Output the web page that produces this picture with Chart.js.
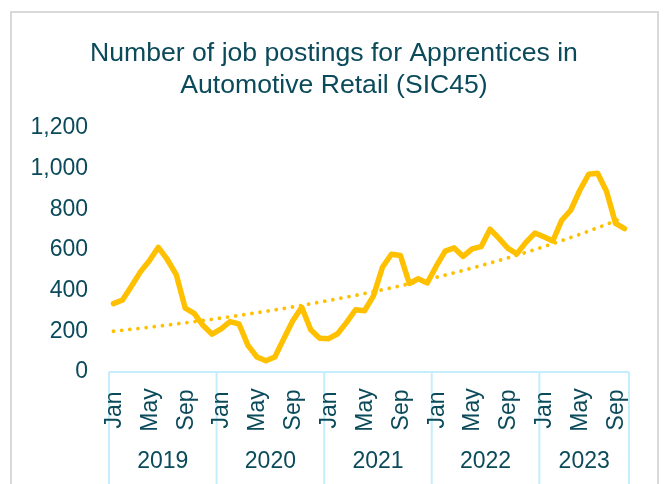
<!DOCTYPE html>
<html>
<head>
<meta charset="utf-8">
<script src="https://cdn.jsdelivr.net/npm/chart.js@4"></script>
<style>
  html, body { margin: 0; padding: 0; background: #ffffff; }
  canvas { display: block; }
</style>
</head>
<body>
<canvas id="chart-vagas" width="664" height="484"></canvas>
<script>
const anos = ["2019", "2020", "2021", "2022", "2023"];
const nomesMeses = ["Jan", "Feb", "Mar", "Apr", "May", "Jun", "Jul", "Aug", "Sep", "Oct", "Nov", "Dec"];

const vagas2019 = [336, 354, 422, 492, 547, 613, 553, 479, 314, 288, 228, 186];
const vagas2020 = [212, 248, 236, 131, 74, 55, 74, 164, 252, 318, 208, 166];
const vagas2021 = [164, 188, 244, 306, 301, 374, 515, 579, 573, 435, 458, 438];
const vagas2022 = [520, 594, 610, 568, 605, 616, 702, 657, 608, 581, 637, 683];
const vagas2023 = [665, 644, 746, 795, 892, 972, 977, 887, 730, 705];

const ticksY = [0, 200, 400, 600, 800, 1000, 1200];

const corLinha = "#FFC000";
const corTexto = "#0b4a5a";
const corTabela = "#c4eefb";
const fonte = "'Liberation Sans', Arial, sans-serif";

const porAno = [vagas2019, vagas2020, vagas2021, vagas2022, vagas2023];
const valores = porAno.flat();
const rotulos = [];
porAno.forEach((lista, k) => {
  lista.forEach((v, m) => rotulos.push(nomesMeses[m] + " " + anos[k]));
});

// linha de tendencia exponencial (minimos quadrados em ln(y)), como no Excel
function tendenciaExp(ys) {
  const n = ys.length;
  let sx = 0, sy = 0, sxx = 0, sxy = 0;
  ys.forEach((y, i) => {
    const x = i + 1;
    const ly = Math.log(y);
    sx += x; sy += ly; sxx += x * x; sxy += x * ly;
  });
  const b = (n * sxy - sx * sy) / (n * sxx - sx * sx);
  const a = (sy - b * sx) / n;
  return ys.map((y, i) => Math.exp(a + b * (i + 1)));
}
const tendencia = tendenciaExp(valores);

const moldura = {
  id: "moldura",
  afterLayout(chart) {
    // o titulo fica um pouco a direita do centro da area
    chart.titleBlock.left += 4.5;
    chart.titleBlock.right += 4.5;
  },
  beforeDraw(chart) {
    const ctx = chart.ctx;
    ctx.save();
    ctx.fillStyle = "#ffffff";
    ctx.fillRect(0, 0, chart.width, chart.height);
    ctx.strokeStyle = "#d9d9d9";
    ctx.lineWidth = 2;
    ctx.strokeRect(11, 12, 647, 500);
    ctx.restore();
  }
};

const tabelaEixo = {
  id: "tabelaEixo",
  afterDraw(chart) {
    const ctx = chart.ctx;
    const area = chart.chartArea;
    const x = chart.scales.x;
    const meio = (x.getPixelForValue(1) - x.getPixelForValue(0)) / 2;
    const baseY = area.bottom;
    ctx.save();
    ctx.strokeStyle = corTabela;
    ctx.lineWidth = 2;
    ctx.beginPath();
    ctx.moveTo(area.left, baseY);
    ctx.lineTo(area.right, baseY);
    ctx.stroke();

    ctx.fillStyle = corTexto;
    ctx.font = "23px " + fonte;
    let inicio = 0;
    porAno.forEach((lista, k) => {
      const x0 = x.getPixelForValue(inicio) - meio;
      const x1 = x.getPixelForValue(inicio + lista.length - 1) + meio;
      ctx.beginPath();
      ctx.moveTo(x0, baseY);
      ctx.lineTo(x0, chart.height);
      if (k === porAno.length - 1) {
        ctx.moveTo(x1, baseY);
        ctx.lineTo(x1, chart.height);
      }
      ctx.stroke();

      ctx.textAlign = "center";
      ctx.textBaseline = "middle";
      ctx.fillText(anos[k], (x0 + x1) / 2, 462);

      lista.forEach((v, m) => {
        if (m % 4 !== 0) return;
        const px = x.getPixelForValue(inicio + m);
        ctx.save();
        ctx.translate(px, 410);
        ctx.rotate(-Math.PI / 2);
        ctx.textAlign = "center";
        ctx.textBaseline = "middle";
        ctx.fillText(nomesMeses[m], 0, 1);
        ctx.restore();
      });
      inicio += lista.length;
    });
    ctx.restore();
  }
};

const ctxVagas = document.getElementById("chart-vagas");

const chartVagas = new Chart(ctxVagas, {
  type: "line",
  data: {
    labels: rotulos,
    datasets: [{
      label: "Vagas",
      data: valores,
      borderColor: corLinha,
      borderWidth: 5.5,
      borderJoinStyle: "round",
      borderCapStyle: "round",
      pointRadius: 0,
      tension: 0,
      fill: false
    }, {
      label: "Tendência",
      data: tendencia,
      borderColor: corLinha,
      borderWidth: 3.8,
      borderDash: [0.01, 8.2],
      borderCapStyle: "round",
      pointRadius: 0,
      tension: 0,
      fill: false
    }]
  },
  options: {
    responsive: false,
    animation: false,
    devicePixelRatio: 1,
    layout: {
      padding: { top: 22, left: 30, right: 35, bottom: 112 }
    },
    plugins: {
      legend: { display: false },
      tooltip: { enabled: false },
      title: {
        display: true,
        text: ["Number of job postings for Apprentices in", "Automotive Retail (SIC45)"],
        color: corTexto,
        font: { family: fonte, size: 26.6, weight: "normal", lineHeight: 1.2 },
        padding: { top: 16, bottom: 26 }
      }
    },
    scales: {
      x: {
        type: "category",
        offset: true,
        display: false
      },
      y: {
        min: 0,
        max: 1200,
        afterBuildTicks(scale) {
          scale.ticks = ticksY.map(v => ({ value: v }));
        },
        afterFit(scale) {
          scale.width = 79;
        },
        border: { display: false },
        grid: { display: false, drawTicks: false },
        ticks: {
          color: corTexto,
          padding: 21,
          font: { family: fonte, size: 23 },
          callback: (v) => v.toLocaleString("en-US")
        }
      }
    }
  },
  plugins: [moldura, tabelaEixo]
});
</script>
</body>
</html>
